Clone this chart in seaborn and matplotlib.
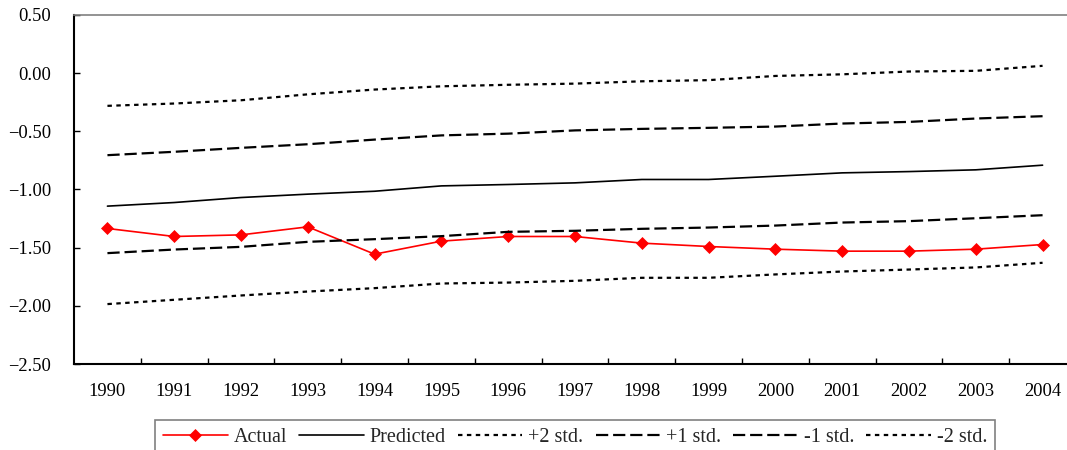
import numpy as np
import pandas as pd
import seaborn as sns
import matplotlib.pyplot as plt
from matplotlib.ticker import FuncFormatter, FixedLocator

# Data
years = [1990, 1991, 1992, 1993, 1994, 1995, 1996, 1997,
         1998, 1999, 2000, 2001, 2002, 2003, 2004]
actual = [-1.335, -1.404, -1.390, -1.321, -1.556, -1.444, -1.404, -1.404,
          -1.461, -1.490, -1.513, -1.530, -1.530, -1.513, -1.473]
predicted = [-1.143, -1.112, -1.069, -1.040, -1.015, -0.969, -0.957, -0.943,
             -0.914, -0.914, -0.886, -0.857, -0.846, -0.831, -0.791]
plus2 = [-0.281, -0.261, -0.233, -0.182, -0.141, -0.113, -0.100, -0.090,
         -0.070, -0.060, -0.024, -0.010, 0.014, 0.020, 0.063]
plus1 = [-0.705, -0.676, -0.642, -0.611, -0.571, -0.535, -0.520, -0.492,
         -0.479, -0.470, -0.459, -0.433, -0.419, -0.390, -0.370]
minus1 = [-1.547, -1.516, -1.493, -1.450, -1.427, -1.401, -1.364, -1.355,
          -1.338, -1.327, -1.310, -1.284, -1.272, -1.247, -1.221]
minus2 = [-1.985, -1.948, -1.911, -1.877, -1.848, -1.808, -1.800, -1.785,
          -1.759, -1.759, -1.730, -1.705, -1.688, -1.670, -1.630]

sns.set_theme(style="white")
plt.rcParams["font.family"] = ["Liberation Serif", "DejaVu Serif"]

fig = plt.figure(figsize=(10.67, 4.5), dpi=100)
ax = fig.add_axes([0.0694, 0.1911, 0.9390, 0.7756])

x = np.arange(len(years))
dotted = (0, (2, 2))
dashed = (0, (5.5, 2.2))

series = [
    ("Actual", actual, dict(color="red", lw=1.2, marker="D", ms=6, mec="red", mew=0.5)),
    ("Predicted", predicted, dict(color="black", lw=1.2)),
    ("+2 std.", plus2, dict(color="black", lw=1.6, linestyle=dotted)),
    ("+1 std.", plus1, dict(color="black", lw=1.6, linestyle=dashed)),
    ("-1 std.", minus1, dict(color="black", lw=1.6, linestyle=dashed)),
    ("-2 std.", minus2, dict(color="black", lw=1.6, linestyle=dotted)),
]
for label, vals, kw in series:
    df = pd.DataFrame({"x": x, "y": vals})
    sns.lineplot(data=df, x="x", y="y", ax=ax, label=label, **kw)

ax.set_xlim(-0.5, len(years) - 0.5)
ax.set_ylim(-2.5, 0.5)
ax.set_yticks(np.arange(-2.5, 0.51, 0.5))
ax.yaxis.set_major_formatter(FuncFormatter(lambda v, p: f"{v:.2f}".replace("-", "\u2212")))
ax.set_xticks(x)
ax.set_xticklabels([str(y) for y in years])
ax.xaxis.set_minor_locator(FixedLocator(np.arange(0.5, len(years) - 1, 1.0)))
ax.set_xlabel("")
ax.set_ylabel("")

ax.tick_params(axis="x", which="major", length=0, pad=14, labelsize=13.3, colors="black")
ax.tick_params(axis="x", which="minor", direction="in", length=4, width=1, color="black", bottom=True)
ax.tick_params(axis="y", direction="in", length=4, width=1, left=True, pad=16.5,
               labelsize=13.3, colors="black")

for side in ["left", "bottom"]:
    ax.spines[side].set_color("black")
    ax.spines[side].set_linewidth(1.5)
ax.spines["top"].set_color("#808080")
ax.spines["top"].set_linewidth(1.2)
ax.spines["right"].set_color("#808080")

ax.get_legend().remove()
handles, labels = ax.get_legend_handles_labels()
leg = fig.legend(handles, labels, loc="upper left", bbox_to_anchor=(0.1453, 1 - 420 / 450),
                 ncol=6, frameon=True, fancybox=False, fontsize=14.5,
                 handlelength=3.2, handletextpad=0.3, columnspacing=0.6,
                 borderaxespad=0, borderpad=0.4)
leg.get_frame().set_edgecolor("#606060")
leg.get_frame().set_linewidth(1.2)

fig.savefig("out.png", dpi=100)
